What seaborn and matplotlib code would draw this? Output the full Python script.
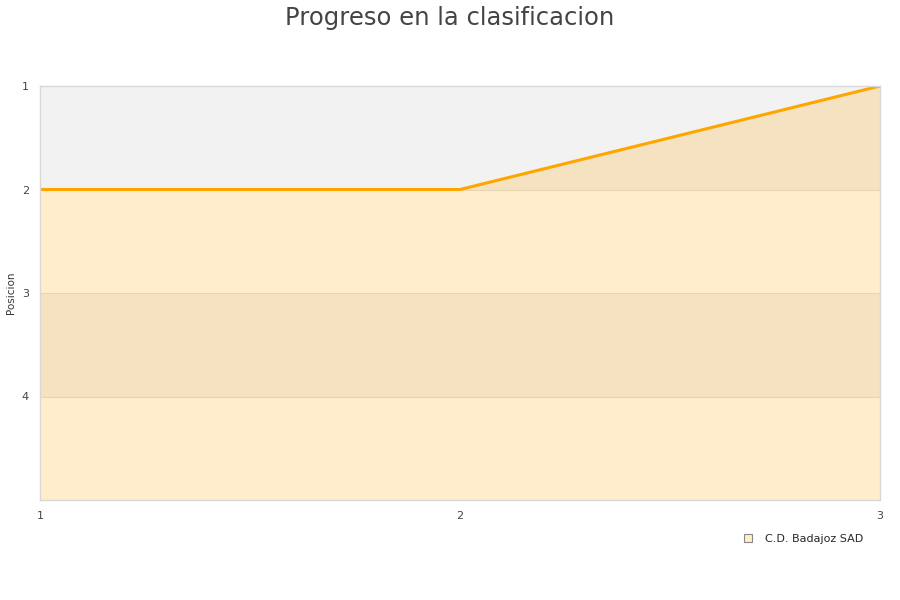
import numpy as np
import pandas as pd
import matplotlib
matplotlib.use("Agg")
import matplotlib.pyplot as plt
import seaborn as sns
from matplotlib.lines import Line2D

# Data
jornadas = [1, 2, 3]
posicion = [2, 2, 1]
equipo = "C.D. Badajoz SAD"

df = pd.DataFrame({"Jornada": jornadas, "Posicion": posicion})

sns.set_theme(style="white")
plt.rcParams["font.family"] = ["DejaVu Sans"]

fig = plt.figure(figsize=(9, 6), dpi=100)
ax = fig.add_axes([40 / 900, 100 / 600, 840 / 900, 414 / 600])

# alternating bands
for lo in [1, 3]:
    ax.axhspan(lo, lo + 1, color="#f2f2f2", zorder=0, lw=0)
for y in [2, 3, 4]:
    ax.axhline(y, color="#e0e0e0", lw=0.8, zorder=0.5)

ax.fill_between(df["Jornada"], df["Posicion"], 5, color="#ffa500", alpha=0.2, lw=0, zorder=1)
sns.lineplot(data=df, x="Jornada", y="Posicion", color="#ffa500", lw=2.2, ax=ax, zorder=2)

ax.set_xlim(1, 3)
ax.set_ylim(5, 1)
ax.set_xticks([1, 2, 3])
ax.set_yticks([1, 2, 3, 4])
ax.tick_params(axis="both", labelsize=8, colors="#444444", length=0, pad=8)
ax.set_xlabel("")
ax.set_ylabel("Posicion", fontsize=7.5, color="#333333")
ax.yaxis.set_label_coords(-0.028, 0.5)
for s in ax.spines.values():
    s.set_color("#d8d8d8")
    s.set_linewidth(1)

fig.suptitle("Progreso en la clasificacion", y=0.99, fontsize=17.5, color="#444444")

handle = Line2D([], [], marker="s", ls="", markersize=6, markerfacecolor="#ffedcc",
                markeredgecolor="#888888", markeredgewidth=0.8)
fig.legend([handle], [equipo], loc="center", bbox_to_anchor=(800 / 900, 1 - 539 / 600),
           frameon=False, fontsize=8, handletextpad=0.6)

fig.savefig("out.png", dpi=100)
